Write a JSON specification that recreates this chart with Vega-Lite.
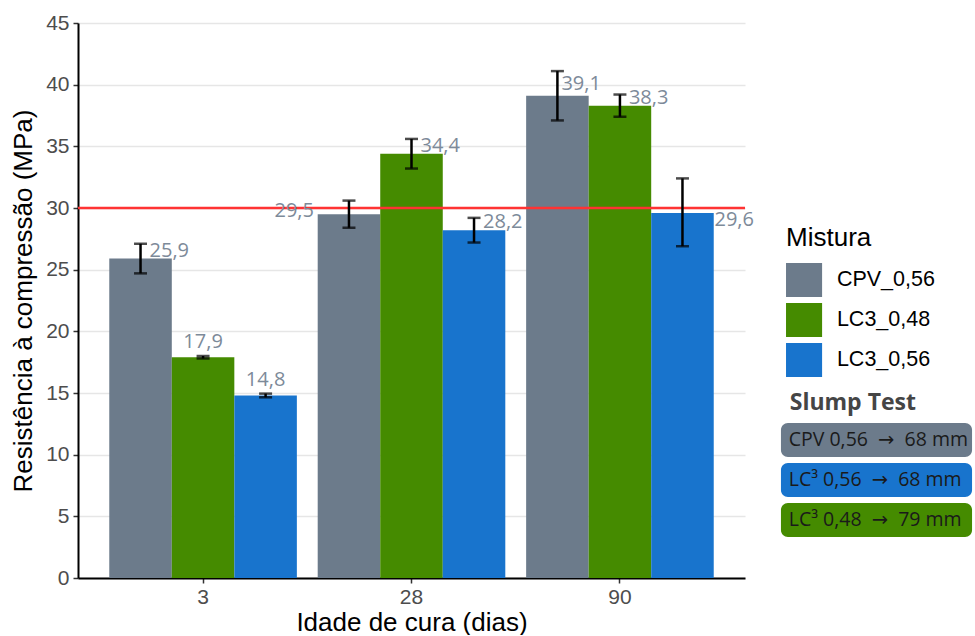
{
  "$schema": "https://vega.github.io/schema/vega-lite/v6.json",
  "padding": {"left": 10, "top": 12, "right": 0, "bottom": 0},
  "bounds": "flush",
  "spacing": 34,
  "config": {
    "locale": {"number": {"decimal": ",", "thousands": ".", "grouping": [3], "currency": ["R$", ""]}},
    "view": {"stroke": null},
    "font": "Liberation Sans"
  },
  "datasets": {
    "resist": [
      {"Idade": "3", "Mistura": "CPV_0,56", "valor": 25.9, "lo": 24.7, "hi": 27.1},
      {"Idade": "3", "Mistura": "LC3_0,48", "valor": 17.9, "lo": 17.8, "hi": 18.0},
      {"Idade": "3", "Mistura": "LC3_0,56", "valor": 14.8, "lo": 14.65, "hi": 14.95},
      {"Idade": "28", "Mistura": "CPV_0,56", "valor": 29.5, "lo": 28.4, "hi": 30.6},
      {"Idade": "28", "Mistura": "LC3_0,48", "valor": 34.4, "lo": 33.2, "hi": 35.6},
      {"Idade": "28", "Mistura": "LC3_0,56", "valor": 28.2, "lo": 27.2, "hi": 29.2},
      {"Idade": "90", "Mistura": "CPV_0,56", "valor": 39.1, "lo": 37.1, "hi": 41.1},
      {"Idade": "90", "Mistura": "LC3_0,48", "valor": 38.3, "lo": 37.4, "hi": 39.2},
      {"Idade": "90", "Mistura": "LC3_0,56", "valor": 29.6, "lo": 26.9, "hi": 32.4}
    ],
    "lateral": [
      {"linha": "Mistura", "tipo": "titulo", "texto": "Mistura"},
      {"linha": "CPV_0,56", "tipo": "legenda", "Mistura": "CPV_0,56", "texto": "CPV_0,56"},
      {"linha": "LC3_0,48", "tipo": "legenda", "Mistura": "LC3_0,48", "texto": "LC3_0,48"},
      {"linha": "LC3_0,56", "tipo": "legenda", "Mistura": "LC3_0,56", "texto": "LC3_0,56"},
      {"linha": "Slump Test", "tipo": "slumptitulo", "texto": "Slump Test"},
      {"linha": "slump1", "tipo": "slump", "Mistura": "CPV_0,56", "texto": "CPV 0,56\u00a0\u00a0→\u00a0\u00a068 mm"},
      {"linha": "slump2", "tipo": "slump", "Mistura": "LC3_0,56", "texto": "LC³ 0,56\u00a0\u00a0→\u00a0\u00a068 mm"},
      {"linha": "slump3", "tipo": "slump", "Mistura": "LC3_0,48", "texto": "LC³ 0,48\u00a0\u00a0→\u00a0\u00a079 mm"}
    ]
  },
  "hconcat": [
    {
      "width": 667,
      "height": 555,
      "data": {"name": "resist"},
      "layer": [
        {
          "mark": {"type": "bar"},
          "encoding": {
            "x": {
              "field": "Idade", "type": "nominal", "sort": ["3", "28", "90"],
              "scale": {"paddingInner": 0.1, "paddingOuter": 0.15},
              "axis": {
                "title": "Idade de cura (dias)", "labelAngle": 0, "grid": false,
                "domainColor": "black", "domainWidth": 2, "tickColor": "#333333", "tickWidth": 1.5, "tickSize": 5,
                "labelFontSize": 21, "labelColor": "#4D4D4D", "labelPadding": 3,
                "titleFontSize": 26, "titleColor": "black", "titleFontWeight": "normal", "titlePadding": 2
              }
            },
            "xOffset": {"field": "Mistura", "type": "nominal", "sort": ["CPV_0,56", "LC3_0,48", "LC3_0,56"], "scale": {"paddingInner": 0, "paddingOuter": 0}},
            "y": {
              "field": "valor", "type": "quantitative",
              "scale": {"domain": [0, 45], "nice": false},
              "axis": {
                "title": "Resistência à compressão (MPa)",
                "values": [0, 2.5, 5, 7.5, 10, 12.5, 15, 17.5, 20, 22.5, 25, 27.5, 30, 32.5, 35, 37.5, 40, 42.5, 45],
                "labelExpr": "datum.value % 5 === 0 ? format(datum.value, 'd') : ''",
                "gridColor": {"condition": {"test": "datum.value % 5 === 0", "value": "#E6E6E6"}, "value": "#F3F3F3"},
                "gridWidth": 1.3,
                "tickOpacity": {"condition": {"test": "datum.value % 5 === 0", "value": 1}, "value": 0},
                "domainColor": "black", "domainWidth": 2, "tickColor": "#333333", "tickWidth": 1.5, "tickSize": 5,
                "labelFontSize": 21, "labelColor": "#4D4D4D", "labelPadding": 4,
                "titleFontSize": 26, "titleColor": "black", "titleFontWeight": "normal", "titlePadding": 9
              }
            },
            "color": {
              "field": "Mistura", "type": "nominal",
              "scale": {"domain": ["CPV_0,56", "LC3_0,48", "LC3_0,56"], "range": ["#6C7B8B", "#458B00", "#1874CD"]},
              "legend": null
            }
          }
        },
        {
          "data": {"values": [{"limite": 30}]},
          "mark": {"type": "rule", "color": "#FF3333", "strokeWidth": 2.5},
          "encoding": {"y": {"field": "limite", "type": "quantitative"}}
        },
        {
          "mark": {"type": "rule", "color": "black", "strokeWidth": 2.5},
          "encoding": {
            "x": {"field": "Idade", "type": "nominal", "sort": ["3", "28", "90"]},
            "xOffset": {"field": "Mistura", "type": "nominal", "sort": ["CPV_0,56", "LC3_0,48", "LC3_0,56"]},
            "y": {"field": "lo", "type": "quantitative"},
            "y2": {"field": "hi"}
          }
        },
        {
          "mark": {"type": "tick", "orient": "horizontal", "size": 13, "thickness": 2.5, "color": "black"},
          "encoding": {
            "x": {"field": "Idade", "type": "nominal", "sort": ["3", "28", "90"]},
            "xOffset": {"field": "Mistura", "type": "nominal", "sort": ["CPV_0,56", "LC3_0,48", "LC3_0,56"]},
            "y": {"field": "lo", "type": "quantitative"}
          }
        },
        {
          "mark": {"type": "tick", "orient": "horizontal", "size": 13, "thickness": 2.5, "color": "black"},
          "encoding": {
            "x": {"field": "Idade", "type": "nominal", "sort": ["3", "28", "90"]},
            "xOffset": {"field": "Mistura", "type": "nominal", "sort": ["CPV_0,56", "LC3_0,48", "LC3_0,56"]},
            "y": {"field": "hi", "type": "quantitative"}
          }
        },
        {
          "transform": [{"filter": "(datum.Idade == '3' && datum.Mistura == 'CPV_0,56') || (datum.Idade == '28' && datum.Mistura != 'CPV_0,56') || (datum.Idade == '90' && datum.Mistura == 'LC3_0,48')"}],
          "mark": {"type": "text", "align": "left", "baseline": "alphabetic", "dx": 9, "dy": -2, "font": "Open Sans", "fontSize": 20, "color": "#7D8A99"},
          "encoding": {
            "x": {"field": "Idade", "type": "nominal", "sort": ["3", "28", "90"]},
            "xOffset": {"field": "Mistura", "type": "nominal", "sort": ["CPV_0,56", "LC3_0,48", "LC3_0,56"]},
            "y": {"field": "valor", "type": "quantitative"},
            "text": {"field": "valor", "type": "quantitative", "format": ".1f"}
          }
        },
        {
          "transform": [{"filter": "datum.Idade == '90' && datum.Mistura == 'CPV_0,56'"}],
          "mark": {"type": "text", "align": "left", "baseline": "alphabetic", "dx": 4, "dy": -6, "font": "Open Sans", "fontSize": 20, "color": "#7D8A99"},
          "encoding": {
            "x": {"field": "Idade", "type": "nominal", "sort": ["3", "28", "90"]},
            "xOffset": {"field": "Mistura", "type": "nominal", "sort": ["CPV_0,56", "LC3_0,48", "LC3_0,56"]},
            "y": {"field": "valor", "type": "quantitative"},
            "text": {"field": "valor", "type": "quantitative", "format": ".1f"}
          }
        },
        {
          "transform": [{"filter": "datum.Idade == '3' && datum.Mistura != 'CPV_0,56'"}],
          "mark": {"type": "text", "align": "center", "baseline": "alphabetic", "dy": -9, "font": "Open Sans", "fontSize": 20, "color": "#7D8A99"},
          "encoding": {
            "x": {"field": "Idade", "type": "nominal", "sort": ["3", "28", "90"]},
            "xOffset": {"field": "Mistura", "type": "nominal", "sort": ["CPV_0,56", "LC3_0,48", "LC3_0,56"]},
            "y": {"field": "valor", "type": "quantitative"},
            "text": {"field": "valor", "type": "quantitative", "format": ".1f"}
          }
        },
        {
          "transform": [{"filter": "datum.Idade == '28' && datum.Mistura == 'CPV_0,56'"}],
          "mark": {"type": "text", "align": "right", "baseline": "alphabetic", "dx": -35, "dy": 3, "font": "Open Sans", "fontSize": 20, "color": "#7D8A99"},
          "encoding": {
            "x": {"field": "Idade", "type": "nominal", "sort": ["3", "28", "90"]},
            "xOffset": {"field": "Mistura", "type": "nominal", "sort": ["CPV_0,56", "LC3_0,48", "LC3_0,56"]},
            "y": {"field": "valor", "type": "quantitative"},
            "text": {"field": "valor", "type": "quantitative", "format": ".1f"}
          }
        },
        {
          "transform": [{"filter": "datum.Idade == '90' && datum.Mistura == 'LC3_0,56'"}],
          "mark": {"type": "text", "align": "left", "baseline": "alphabetic", "dx": 32, "dy": 13, "font": "Open Sans", "fontSize": 20, "color": "#7D8A99"},
          "encoding": {
            "x": {"field": "Idade", "type": "nominal", "sort": ["3", "28", "90"]},
            "xOffset": {"field": "Mistura", "type": "nominal", "sort": ["CPV_0,56", "LC3_0,48", "LC3_0,56"]},
            "y": {"field": "valor", "type": "quantitative"},
            "text": {"field": "valor", "type": "quantitative", "format": ".1f"}
          }
        }
      ]
    },
    {
      "width": 195,
      "height": 555,
      "data": {"name": "lateral"},
      "encoding": {
        "y": {
          "field": "linha", "type": "nominal",
          "scale": {
            "domain": ["vazio1", "vazio2", "vazio3", "vazio4", "vazio5", "Mistura", "CPV_0,56", "LC3_0,48", "LC3_0,56", "Slump Test", "slump1", "slump2", "slump3"],
            "paddingInner": 0.15, "paddingOuter": 0.5125, "align": 0
          },
          "axis": null
        }
      },
      "layer": [
        {
          "transform": [{"filter": "datum.tipo == 'titulo'"}],
          "mark": {"type": "text", "align": "left", "baseline": "middle", "dy": -2, "fontSize": 26, "color": "black"},
          "encoding": {
            "x": {"datum": 0.036, "type": "quantitative", "scale": {"domain": [0, 1]}, "axis": null},
            "text": {"field": "texto"}
          }
        },
        {
          "transform": [{"filter": "datum.tipo == 'legenda'"}],
          "mark": {"type": "rect"},
          "encoding": {
            "x": {"datum": 0.036, "type": "quantitative", "scale": {"domain": [0, 1]}, "axis": null},
            "x2": {"datum": 0.221},
            "color": {
              "field": "Mistura", "type": "nominal",
              "scale": {"domain": ["CPV_0,56", "LC3_0,48", "LC3_0,56"], "range": ["#6C7B8B", "#458B00", "#1874CD"]},
              "legend": null
            }
          }
        },
        {
          "transform": [{"filter": "datum.tipo == 'legenda'"}],
          "mark": {"type": "text", "align": "left", "baseline": "middle", "fontSize": 21.5, "color": "black"},
          "encoding": {
            "x": {"datum": 0.297, "type": "quantitative", "scale": {"domain": [0, 1]}, "axis": null},
            "text": {"field": "texto"}
          }
        },
        {
          "transform": [{"filter": "datum.tipo == 'slumptitulo'"}],
          "mark": {"type": "text", "align": "left", "baseline": "middle", "dy": 3, "font": "Open Sans", "fontWeight": "bold", "fontSize": 23, "color": "#454545"},
          "encoding": {
            "x": {"datum": 0.055, "type": "quantitative", "scale": {"domain": [0, 1]}, "axis": null},
            "text": {"field": "texto"}
          }
        },
        {
          "transform": [{"filter": "datum.tipo == 'slump'"}],
          "mark": {"type": "rect", "cornerRadius": 7},
          "encoding": {
            "x": {"datum": 0.01, "type": "quantitative", "scale": {"domain": [0, 1]}, "axis": null},
            "x2": {"datum": 0.99},
            "color": {
              "field": "Mistura", "type": "nominal",
              "scale": {"domain": ["CPV_0,56", "LC3_0,48", "LC3_0,56"], "range": ["#6C7B8B", "#458B00", "#1874CD"]},
              "legend": null
            }
          }
        },
        {
          "transform": [{"filter": "datum.tipo == 'slump'"}],
          "mark": {"type": "text", "align": "left", "baseline": "middle", "font": "Open Sans, DejaVu Sans", "fontSize": 19.5, "color": "#1A1A1A"},
          "encoding": {
            "x": {"datum": 0.05, "type": "quantitative", "scale": {"domain": [0, 1]}, "axis": null},
            "text": {"field": "texto"}
          }
        }
      ]
    }
  ]
}
